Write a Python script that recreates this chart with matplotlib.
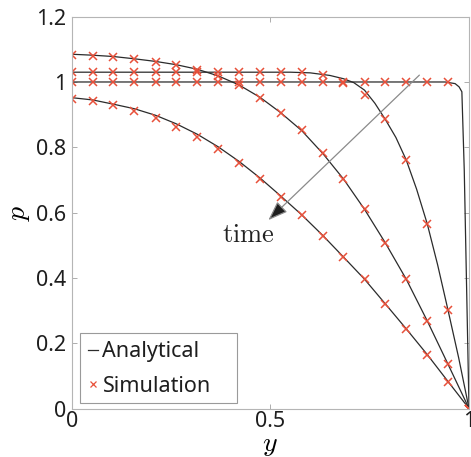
import matplotlib
matplotlib.use("Agg")
import matplotlib.pyplot as plt
from matplotlib.patches import Rectangle

plt.rcParams['mathtext.fontset'] = 'cm'

# simulation sample positions
y_sim = [0.0, 0.053, 0.105, 0.158, 0.211, 0.263, 0.316, 0.368, 0.421, 0.474,
         0.526, 0.579, 0.632, 0.684, 0.737, 0.789, 0.842, 0.895, 0.947, 1.0]

# simulation values for four times
simA = [1.0, 1.0, 1.0, 1.0, 1.0, 1.0, 1.0, 1.0, 1.0, 1.0,
        1.0, 1.0, 1.0, 1.0, 1.0, 1.0, 1.0, 1.0, 1.0, 0.0]
simB = [1.03, 1.03, 1.03, 1.03, 1.03, 1.03, 1.03, 1.03, 1.03, 1.03,
        1.03, 1.03, 1.022, 0.998, 0.96, 0.886, 0.761, 0.565, 0.302, 0.0]
simC = [1.083, 1.079, 1.078, 1.070, 1.062, 1.052, 1.037, 1.017, 0.99, 0.951,
        0.906, 0.853, 0.781, 0.703, 0.610, 0.508, 0.396, 0.268, 0.135, 0.0]
simD = [0.947, 0.942, 0.929, 0.911, 0.889, 0.863, 0.831, 0.795, 0.751, 0.702,
        0.649, 0.593, 0.528, 0.463, 0.396, 0.32, 0.243, 0.165, 0.082, 0.0]

# analytical curves
yA = [0.0, 0.94, 0.965, 0.975, 0.982, 0.988, 1.0]
pA = [1.0, 1.0, 0.995, 0.985, 0.97, 0.73, 0.0]

yB = [0.0, 0.55, 0.6, 0.65, 0.684, 0.71, 0.737, 0.763, 0.789, 0.816, 0.842,
      0.868, 0.895, 0.921, 0.947, 0.974, 1.0]
pB = [1.03, 1.03, 1.028, 1.02, 1.01, 0.998, 0.975, 0.935, 0.886, 0.83, 0.761,
      0.672, 0.565, 0.44, 0.302, 0.155, 0.0]

yC = y_sim
pC = [1.085, 1.082, 1.078, 1.071, 1.063, 1.053, 1.039, 1.019, 0.991, 0.953,
      0.906, 0.851, 0.781, 0.703, 0.61, 0.508, 0.396, 0.268, 0.136, 0.0]

yD = y_sim
pD = [0.952, 0.945, 0.932, 0.918, 0.898, 0.872, 0.84, 0.802, 0.757, 0.706,
      0.651, 0.593, 0.53, 0.464, 0.396, 0.321, 0.244, 0.165, 0.083, 0.0]

xticks = [0, 0.5, 1]
xticklabels = ['0', '0.5', '1']
yticks = [0, 0.2, 0.4, 0.6, 0.8, 1.0, 1.2]
yticklabels = ['0', '0.2', '0.4', '0.6', '0.8', '1', '1.2']

fig = plt.figure(figsize=(4.71, 4.57), dpi=100)
ax = fig.add_axes([0.1522, 0.1061, 0.8436, 0.8574])

line_kw = dict(color='#2b2b2b', lw=0.9)
mk_kw = dict(ls='none', marker='x', color='#e8503a', ms=6, mew=1.1)

for yy, pp in [(yA, pA), (yB, pB), (yC, pC), (yD, pD)]:
    ax.plot(yy, pp, **line_kw)
for s in [simA, simB, simC, simD]:
    ax.plot(y_sim, s, **mk_kw)

# legend proxies
hA, = ax.plot([], [], label='Analytical', **line_kw)
hS, = ax.plot([], [], label='Simulation', ls='none', marker='x',
              color='#e8503a', ms=4.5, mew=0.9)

ax.annotate('', xy=(0.495, 0.577), xytext=(0.875, 1.021),
            arrowprops=dict(arrowstyle='-|>,head_length=0.6,head_width=0.22',
                            ec='#8a8a8a', fc='#1e1e1e', lw=0.9,
                            mutation_scale=20, shrinkA=0, shrinkB=0))
ax.text(0.444, 0.531, r'$\mathrm{time}$', fontsize=19, ha='center', va='center',
        color='#222222')

ax.set_xlim(0, 1)
ax.set_ylim(0, 1.2)
ax.set_xticks(xticks)
ax.set_xticklabels(xticklabels)
ax.set_yticks(yticks)
ax.set_yticklabels(yticklabels)

for lab in ax.get_xticklabels() + ax.get_yticklabels():
    lab.set_fontfamily('Noto Sans')
    lab.set_fontsize(15.5)
    lab.set_fontweight('medium')
    lab.set_color('#1e1e1e')

ax.tick_params(axis='both', direction='in', length=3.5, width=0.6,
               color='#a0a0a0', top=True, right=True)
ax.tick_params(axis='x', pad=1.5)
ax.tick_params(axis='y', pad=4)
for sp in ax.spines.values():
    sp.set_color('#b5b5b5')
    sp.set_linewidth(0.8)

ax.set_xlabel(r'$y$', fontsize=20, labelpad=-1)
ax.set_ylabel(r'$p$', fontsize=20, labelpad=3)

# legend frame (drawn as a box in axes coordinates)
ax.add_patch(Rectangle((0.021, 0.013), 0.395, 0.179, transform=ax.transAxes,
                       fc='white', ec='#9a9a9a', lw=0.8, zorder=4))
leg = ax.legend(handles=[hA, hS], loc='lower left', bbox_to_anchor=(0.026, 0.014),
                borderaxespad=0, frameon=False,
                handlelength=0.45, handletextpad=0.2, borderpad=0.3,
                labelspacing=0.62, prop={'family': 'Noto Sans', 'size': 15.5,
                                         'weight': 'medium'})
leg.set_zorder(5)
for t in leg.get_texts():
    t.set_color('#1e1e1e')

fig.savefig('out.png', dpi=100)
